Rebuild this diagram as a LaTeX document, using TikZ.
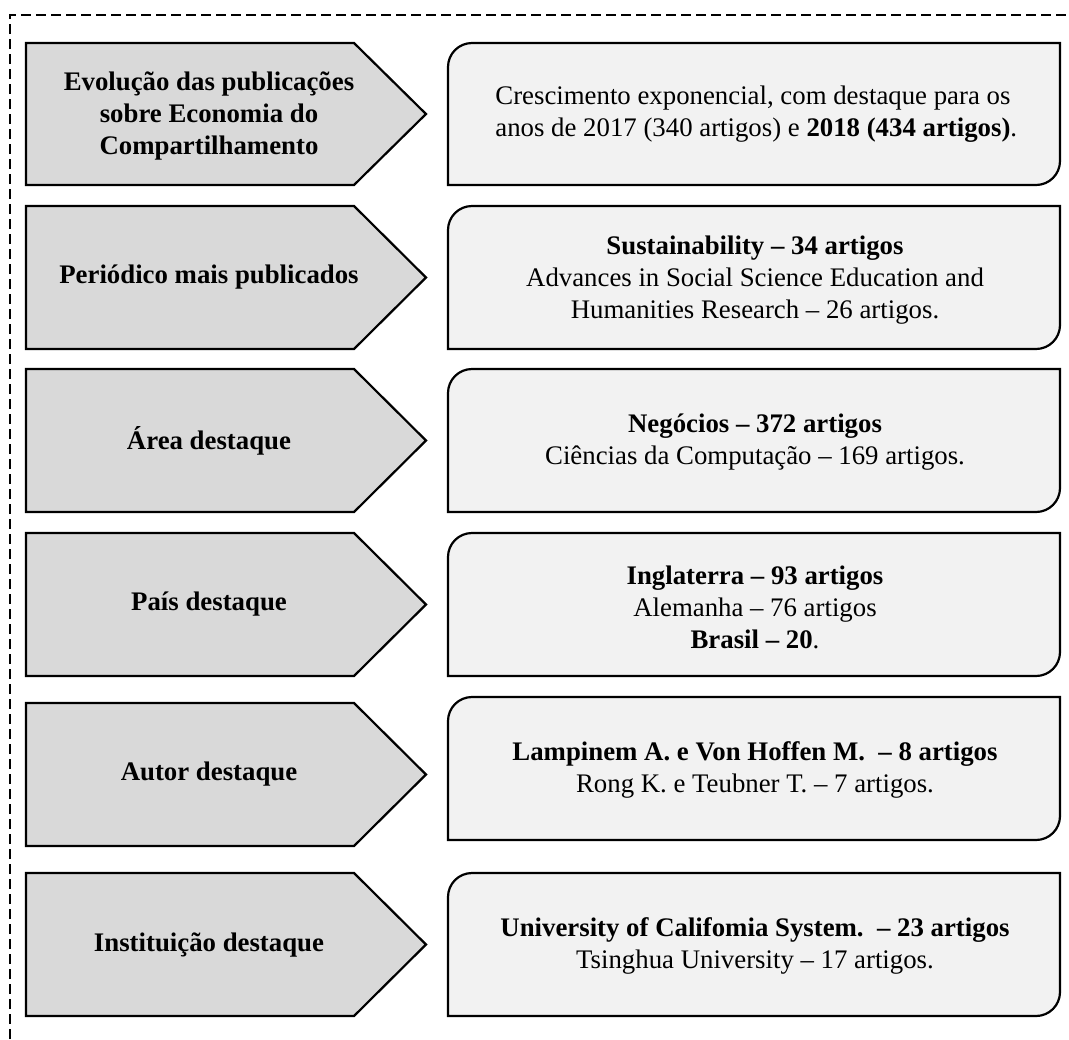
\documentclass[tikz,border=0pt]{standalone}
\usepackage{fontspec}
\setmainfont{Liberation Serif}
\definecolor{taggray}{HTML}{D9D9D9}
\definecolor{infogray}{HTML}{F2F2F2}

\begin{document}
\begin{tikzpicture}[x = 0.5pt, y = 0.5pt,
  tag/.style = {draw, fill = taggray, line width = 1.1pt, line join = miter},
  info/.style = {draw, fill = infogray, line width = 1.1pt},
  taglabel/.style = {font = \bfseries\fontsize{13.4}{16}\selectfont, align = center, inner sep = 0pt},
  infolabel/.style = {font = \fontsize{13.4}{16}\selectfont, align = center, inner sep = 0pt}]
\useasboundingbox (0, 0) rectangle (1069, -1039);
\draw[dash pattern = on 5pt off 2.5pt, line width = 0.8pt] (10, -1039) -- (10, -15) -- (1069, -15);

% linha 1
\draw[tag] (26, -43) -- (354, -43) -- (426, -114) -- (354, -185) -- (26, -185) -- cycle;
\node[taglabel] (evolucao) at (209, -116) {Evolução das publicações\\sobre Economia do\\Compartilhamento};
\draw[info] (448, -185) -- (448, -67) arc[start angle = 180, end angle = 90, radius = 12pt] -- (1060, -43) -- (1060, -161) arc[start angle = 0, end angle = -90, radius = 12pt] -- cycle;
\node[infolabel, align = left, anchor = west] (crescimento) at (495, -114) {Crescimento exponencial, com destaque para os\\anos de 2017 (340 artigos) e \textbf{2018 (434 artigos)}.};

% linha 2
\draw[tag] (26, -206) -- (354, -206) -- (426, -277.5) -- (354, -349) -- (26, -349) -- cycle;
\node[taglabel] (periodico) at (209, -277.5) {Periódico mais publicados};
\draw[info] (448, -349) -- (448, -230) arc[start angle = 180, end angle = 90, radius = 12pt] -- (1060, -206) -- (1060, -325) arc[start angle = 0, end angle = -90, radius = 12pt] -- cycle;
\node[infolabel] (revistas) at (755, -280) {\textbf{Sustainability – 34 artigos}\\Advances in Social Science Education and\\Humanities Research – 26 artigos.};

% linha 3
\draw[tag] (26, -369) -- (354, -369) -- (426, -440.5) -- (354, -512) -- (26, -512) -- cycle;
\node[taglabel] (area) at (209, -440.5) {Área destaque};
\draw[info] (448, -512) -- (448, -393) arc[start angle = 180, end angle = 90, radius = 12pt] -- (1060, -369) -- (1060, -488) arc[start angle = 0, end angle = -90, radius = 12pt] -- cycle;
\node[infolabel] (areas) at (755, -442) {\textbf{Negócios – 372 artigos}\\Ciências da Computação – 169 artigos.};

% linha 4
\draw[tag] (26, -533) -- (354, -533) -- (426, -604.5) -- (354, -676) -- (26, -676) -- cycle;
\node[taglabel] (pais) at (209, -604.5) {País destaque};
\draw[info] (448, -676) -- (448, -557) arc[start angle = 180, end angle = 90, radius = 12pt] -- (1060, -533) -- (1060, -652) arc[start angle = 0, end angle = -90, radius = 12pt] -- cycle;
\node[infolabel] (paises) at (755, -607) {\textbf{Inglaterra – 93 artigos}\\Alemanha – 76 artigos\\\textbf{Brasil – 20}.};

% linha 5
\draw[tag] (26, -703) -- (354, -703) -- (426, -774.5) -- (354, -846) -- (26, -846) -- cycle;
\node[taglabel] (autor) at (209, -774.5) {Autor destaque};
\draw[info] (448, -840) -- (448, -721) arc[start angle = 180, end angle = 90, radius = 12pt] -- (1060, -697) -- (1060, -816) arc[start angle = 0, end angle = -90, radius = 12pt] -- cycle;
\node[infolabel] (autores) at (755, -770) {\textbf{Lampinem A. e Von Hoffen M.\ \ – 8 artigos}\\Rong K. e Teubner T. – 7 artigos.};

% linha 6
\draw[tag] (26, -873) -- (354, -873) -- (426, -944.5) -- (354, -1016) -- (26, -1016) -- cycle;
\node[taglabel] (instituicao) at (209, -944.5) {Instituição destaque};
\draw[info] (448, -1016) -- (448, -897) arc[start angle = 180, end angle = 90, radius = 12pt] -- (1060, -873) -- (1060, -992) arc[start angle = 0, end angle = -90, radius = 12pt] -- cycle;
\node[infolabel] (instituicoes) at (755, -946) {\textbf{University of Califomia System.\ \ – 23 artigos}\\Tsinghua University – 17 artigos.};
\end{tikzpicture}
\end{document}
